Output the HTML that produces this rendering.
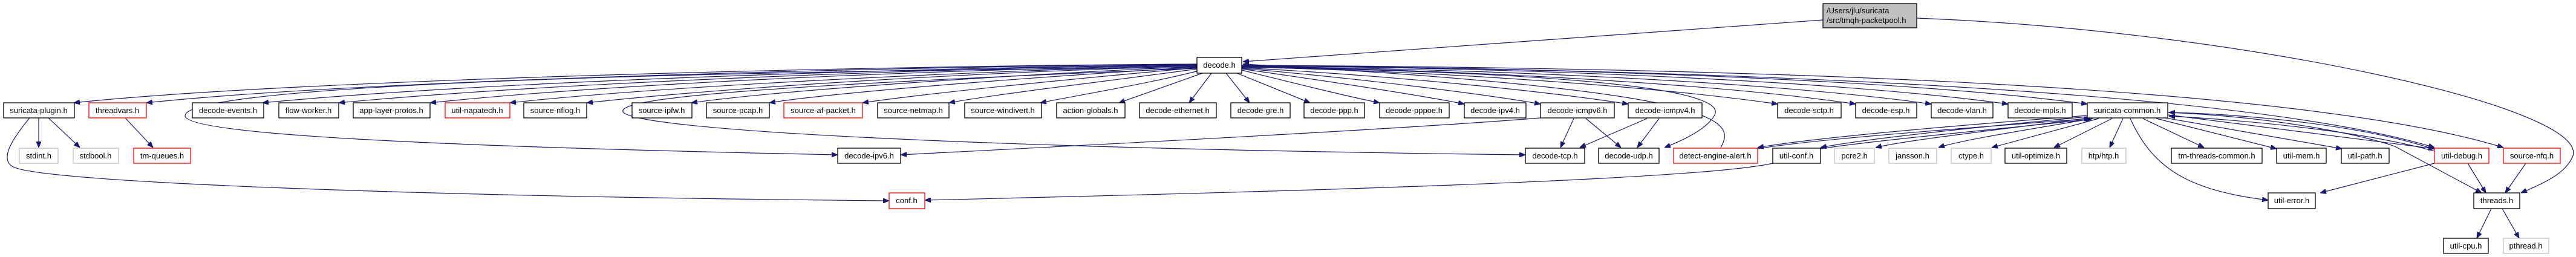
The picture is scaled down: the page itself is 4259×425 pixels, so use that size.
<!DOCTYPE html>
<html><head><meta charset="utf-8"><style>
html,body{margin:0;padding:0;background:#fff;}
svg{display:block;}
text{font-family:"Liberation Sans",Helvetica,sans-serif;font-size:13px;fill:#000;text-anchor:middle;}
.e{fill:none;stroke:#191970;stroke-width:1.2;marker-end:url(#a);}
.n{fill:#fff;stroke:#000;stroke-width:1.3;}
.g{fill:#fff;stroke:#bfbfbf;stroke-width:1.3;}
.r{fill:#fff;stroke:#ff0000;stroke-width:1.3;}
</style></head><body>
<svg width="4259" height="425" viewBox="0 0 4259 425" xmlns="http://www.w3.org/2000/svg">
<defs><marker id="a" markerWidth="10" markerHeight="8" refX="10" refY="4" orient="auto" markerUnits="userSpaceOnUse"><polygon points="0,0 10,4 0,8" fill="#191970" stroke="#191970"/></marker></defs>
<path class="e" d="M1979,106 C1500,108 500,130 122,170"/>
<path class="e" d="M1979,106 C1500,110 600,132 242,170"/>
<path class="e" d="M1979,107 C1500,112 800,135 434,170"/>
<path class="e" d="M1979,107 C1500,114 900,138 560,170"/>
<path class="e" d="M1979,108 C1500,116 1000,140 711,170"/>
<path class="e" d="M1979,108 C1600,118 1100,142 843,170"/>
<path class="e" d="M1979,109 C1600,120 1200,145 970,170"/>
<path class="e" d="M1979,110 C1700,122 1300,148 1143,170"/>
<path class="e" d="M1979,111 C1750,125 1400,150 1272,170"/>
<path class="e" d="M1979,112 C1800,128 1550,152 1426,170"/>
<path class="e" d="M1979,114 C1850,132 1650,155 1569,170"/>
<path class="e" d="M1982,117 C1900,138 1780,158 1720,170"/>
<path class="e" d="M1988,121 L1850,170"/>
<path class="e" d="M2003,121 L1966,170"/>
<path class="e" d="M2027,121 L2066,170"/>
<path class="e" d="M2045,121 L2166,170"/>
<path class="e" d="M2053,116 C2150,140 2230,160 2281,170"/>
<path class="e" d="M2053,114 C2200,135 2350,158 2421,172"/>
<path class="e" d="M2053,113 C2250,130 2450,155 2547,172"/>
<path class="e" d="M2053,112 C2300,125 2550,150 2692,172"/>
<path class="e" d="M2053,111 C2400,118 2750,145 2939,172"/>
<path class="e" d="M2053,110 C2450,116 2850,140 3068,172"/>
<path class="e" d="M2053,110 C2500,114 2950,138 3193,172"/>
<path class="e" d="M2053,109 C2550,112 3050,135 3320,172"/>
<path class="e" d="M2053,109 C2600,112 3150,132 3451,172"/>
<path class="e" d="M2053,108 C2800,115 3700,145 4025,244"/>
<path class="e" d="M2053,108 C2900,112 3800,140 4139,244"/>
<path class="e" d="M2053,111 C2500,118 2860,140 2835,190 C2822,215 2775,235 2752,244"/>
<path class="e" d="M2845,244 C2870,200 2860,150 2055,106"/>
<path class="e" d="M1979,112 C1000,118 300,145 306,192 C312,222 700,242 1385,256"/>
<path class="e" d="M1979,113 C1300,140 1020,160 1030,185 C1050,215 1600,245 2522,256"/>
<path class="e" d="M3014,33 L2055,102"/>
<path class="e" d="M3169,30 C3700,50 4300,180 4252,262 C4238,290 4200,305 4168,319"/>
<path class="e" d="M64,195 L64,244"/>
<path class="e" d="M80,195 L132,244"/>
<path class="e" d="M207,195 L253,244"/>
<path class="e" d="M49,195 C20,230 0,262 20,275 C60,302 700,325 1470,332"/>
<path class="e" d="M2931,270 C2800,300 2000,320 1529,331"/>
<path class="e" d="M2547,195 C2300,215 1700,245 1489,256"/>
<path class="e" d="M2602,196 L2580,244"/>
<path class="e" d="M2622,196 L2680,244"/>
<path class="e" d="M2723,196 L2612,244"/>
<path class="e" d="M2743,196 L2707,244"/>
<path class="e" d="M3451,191 C3200,210 3000,228 2906,244"/>
<path class="e" d="M2906,246 C3000,230 3250,212 3455,196"/>
<path class="e" d="M3451,193 C3250,212 3080,230 3010,244"/>
<path class="e" d="M3010,246 C3100,232 3300,214 3458,197"/>
<path class="e" d="M3455,195 C3300,215 3150,232 3101,244"/>
<path class="e" d="M3460,196 C3350,215 3240,232 3205,244"/>
<path class="e" d="M3470,196 L3293,244"/>
<path class="e" d="M3492,196 L3396,244"/>
<path class="e" d="M3510,196 L3488,244"/>
<path class="e" d="M3543,196 L3644,244"/>
<path class="e" d="M3565,196 L3764,246"/>
<path class="e" d="M3580,195 L3872,246"/>
<path class="e" d="M3585,190 L4025,246"/>
<path class="e" d="M4025,250 C3900,215 3700,198 3586,192"/>
<path class="e" d="M4025,247 C3900,205 3700,188 3586,186"/>
<path class="e" d="M3522,196 C3560,280 3620,315 3750,331"/>
<path class="e" d="M3585,186 C3800,195 3950,235 3965,245 L4103,319"/>
<path class="e" d="M4025,270 L3836,319"/>
<path class="e" d="M4080,270 L4110,319"/>
<path class="e" d="M4176,270 L4142,319"/>
<path class="e" d="M4119,345 L4095,394"/>
<path class="e" d="M4137,345 L4165,394"/>
<rect x="3014" y="6" width="155" height="40" fill="#bfbfbf" stroke="#000" stroke-width="1.3"/>
<text x="3020" y="22" style="text-anchor:start">/Users/jlu/suricata</text>
<text x="3020" y="38" style="text-anchor:start">/src/tmqh-packetpool.h</text>
<rect class="n" x="1979" y="95" width="74" height="26"/><text x="2016" y="112">decode.h</text>
<g>
<rect class="n" x="6" y="170" width="117" height="25"/><text x="64" y="187">suricata-plugin.h</text>
<rect class="r" x="147" y="170" width="95" height="25"/><text x="194" y="187">threadvars.h</text>
<rect class="n" x="318" y="170" width="118" height="25"/><text x="377" y="187">decode-events.h</text>
<rect class="n" x="461" y="170" width="99" height="25"/><text x="510" y="187">flow-worker.h</text>
<rect class="n" x="584" y="170" width="127" height="25"/><text x="647" y="187">app-layer-protos.h</text>
<rect class="r" x="736" y="170" width="107" height="25"/><text x="789" y="187">util-napatech.h</text>
<rect class="n" x="866" y="170" width="104" height="25"/><text x="918" y="187">source-nflog.h</text>
<rect class="n" x="1045" y="170" width="99" height="25"/><text x="1094" y="187">source-ipfw.h</text>
<rect class="n" x="1168" y="170" width="104" height="25"/><text x="1220" y="187">source-pcap.h</text>
<rect class="r" x="1296" y="170" width="130" height="25"/><text x="1361" y="187">source-af-packet.h</text>
<rect class="n" x="1451" y="170" width="118" height="25"/><text x="1510" y="187">source-netmap.h</text>
<rect class="n" x="1595" y="170" width="127" height="25"/><text x="1658" y="187">source-windivert.h</text>
<rect class="n" x="1747" y="170" width="113" height="25"/><text x="1803" y="187">action-globals.h</text>
<rect class="n" x="1884" y="170" width="127" height="25"/><text x="1947" y="187">decode-ethernet.h</text>
<rect class="n" x="2035" y="170" width="98" height="25"/><text x="2084" y="187">decode-gre.h</text>
<rect class="n" x="2156" y="170" width="100" height="25"/><text x="2206" y="187">decode-ppp.h</text>
<rect class="n" x="2281" y="170" width="115" height="25"/><text x="2338" y="187">decode-pppoe.h</text>
<rect class="n" x="2421" y="170" width="102" height="25"/><text x="2472" y="187">decode-ipv4.h</text>
<rect class="n" x="2547" y="170" width="122" height="25"/><text x="2608" y="187">decode-icmpv6.h</text>
<rect class="n" x="2692" y="170" width="122" height="25"/><text x="2753" y="187">decode-icmpv4.h</text>
<rect class="n" x="2939" y="170" width="105" height="25"/><text x="2991" y="187">decode-sctp.h</text>
<rect class="n" x="3068" y="170" width="101" height="25"/><text x="3118" y="187">decode-esp.h</text>
<rect class="n" x="3193" y="170" width="102" height="25"/><text x="3244" y="187">decode-vlan.h</text>
<rect class="n" x="3320" y="170" width="106" height="25"/><text x="3373" y="187">decode-mpls.h</text>
<rect class="n" x="3451" y="170" width="133" height="25"/><text x="3517" y="187">suricata-common.h</text>
</g>
<g>
<rect class="g" x="32" y="245" width="64" height="25"/><text x="64" y="262">stdint.h</text>
<rect class="g" x="121" y="245" width="75" height="25"/><text x="158" y="262">stdbool.h</text>
<rect class="r" x="221" y="245" width="94" height="25"/><text x="268" y="262">tm-queues.h</text>
<rect class="n" x="1385" y="245" width="104" height="25"/><text x="1437" y="262">decode-ipv6.h</text>
<rect class="n" x="2522" y="245" width="98" height="25"/><text x="2571" y="262">decode-tcp.h</text>
<rect class="n" x="2643" y="245" width="100" height="25"/><text x="2693" y="262">decode-udp.h</text>
<rect class="r" x="2767" y="245" width="139" height="25"/><text x="2836" y="262">detect-engine-alert.h</text>
<rect class="n" x="2931" y="245" width="79" height="25"/><text x="2970" y="262">util-conf.h</text>
<rect class="g" x="3033" y="245" width="66" height="25"/><text x="3066" y="262">pcre2.h</text>
<rect class="g" x="3123" y="245" width="79" height="25"/><text x="3162" y="262">jansson.h</text>
<rect class="g" x="3226" y="245" width="66" height="25"/><text x="3259" y="262">ctype.h</text>
<rect class="n" x="3315" y="245" width="102" height="25"/><text x="3366" y="262">util-optimize.h</text>
<rect class="g" x="3442" y="245" width="73" height="25"/><text x="3478" y="262">htp/htp.h</text>
<rect class="n" x="3590" y="245" width="150" height="25"/><text x="3665" y="262">tm-threads-common.h</text>
<rect class="n" x="3764" y="245" width="82" height="25"/><text x="3805" y="262">util-mem.h</text>
<rect class="n" x="3871" y="245" width="79" height="25"/><text x="3910" y="262">util-path.h</text>
<rect class="r" x="4025" y="245" width="90" height="25"/><text x="4070" y="262">util-debug.h</text>
<rect class="r" x="4139" y="245" width="94" height="25"/><text x="4186" y="262">source-nfq.h</text>
</g>
<rect class="r" x="1470" y="319" width="59" height="26"/><text x="1499" y="336">conf.h</text>
<rect class="n" x="3750" y="319" width="78" height="26"/><text x="3789" y="336">util-error.h</text>
<rect class="n" x="4090" y="319" width="76" height="26"/><text x="4128" y="336">threads.h</text>
<rect class="n" x="4040" y="394" width="74" height="25"/><text x="4077" y="411">util-cpu.h</text>
<rect class="g" x="4139" y="394" width="75" height="25"/><text x="4176" y="411">pthread.h</text>
</svg>
</body></html>
